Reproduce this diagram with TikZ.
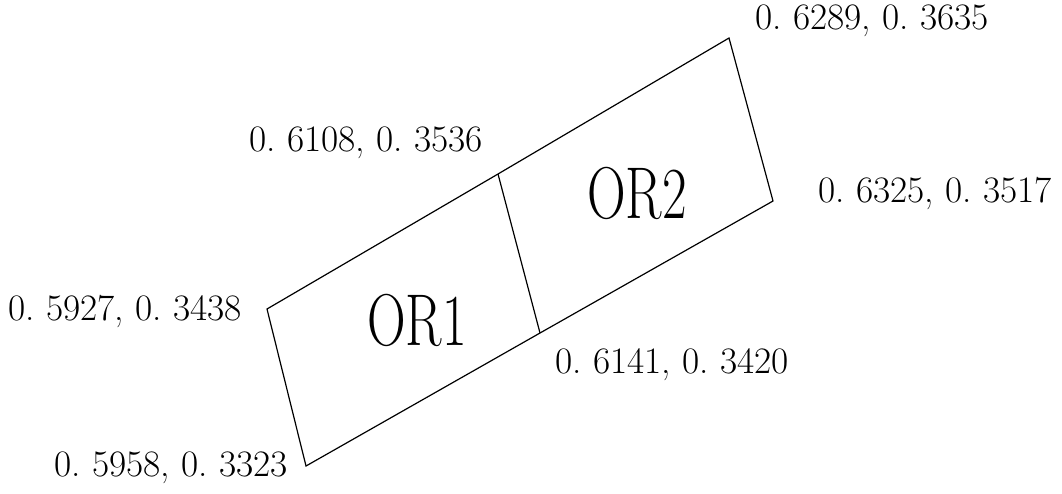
\documentclass[tikz,border=0pt]{standalone}
\usepackage{tikz}
\usetikzlibrary{positioning}
\definecolor{ink}{HTML}{000000}

\begin{document}
\begin{tikzpicture}[x=0.75pt,y=-0.75pt]
    \tikzset{
      cornerlabel/.style={inner sep=0pt,anchor=center,font=\fontsize{28}{32}\selectfont,text=ink},
      regionlabel/.style={inner sep=0pt,anchor=center,font=\fontsize{55}{60}\selectfont,xscale=0.73,text=ink},
      edge/.style={draw=ink,line width=0.9pt,line join=miter}
    }
    \useasboundingbox (0,0) rectangle (1062,493);
    \coordinate (tl) at (267,309);
    \coordinate (tm) at (498,174);
    \coordinate (tr) at (729,38);
    \coordinate (br) at (773,201);
    \coordinate (bm) at (540,333);
    \coordinate (bl) at (306,466);
    \draw[edge] (tl) -- (tm) -- (tr) -- (br) -- (bm) -- (bl) -- cycle;
    \draw[edge] (tm) -- (bm);
    \node[regionlabel] (or1) at (417,320) {OR1};
    \node[regionlabel] (or2) at (637,193) {OR2};
    \node[cornerlabel] (ltr) at (872,21) {0.\ 6289,\ 0.\ 3635};
    \node[cornerlabel] (ltm) at (366,143) {0.\ 6108,\ 0.\ 3536};
    \node[cornerlabel] (lbr) at (935,193) {0.\ 6325,\ 0.\ 3517};
    \node[cornerlabel] (ltl) at (125,311) {0.\ 5927,\ 0.\ 3438};
    \node[cornerlabel] (lbm) at (672,365) {0.\ 6141,\ 0.\ 3420};
    \node[cornerlabel] (lbl) at (171,468) {0.\ 5958,\ 0.\ 3323};
  \end{tikzpicture}
\end{document}
